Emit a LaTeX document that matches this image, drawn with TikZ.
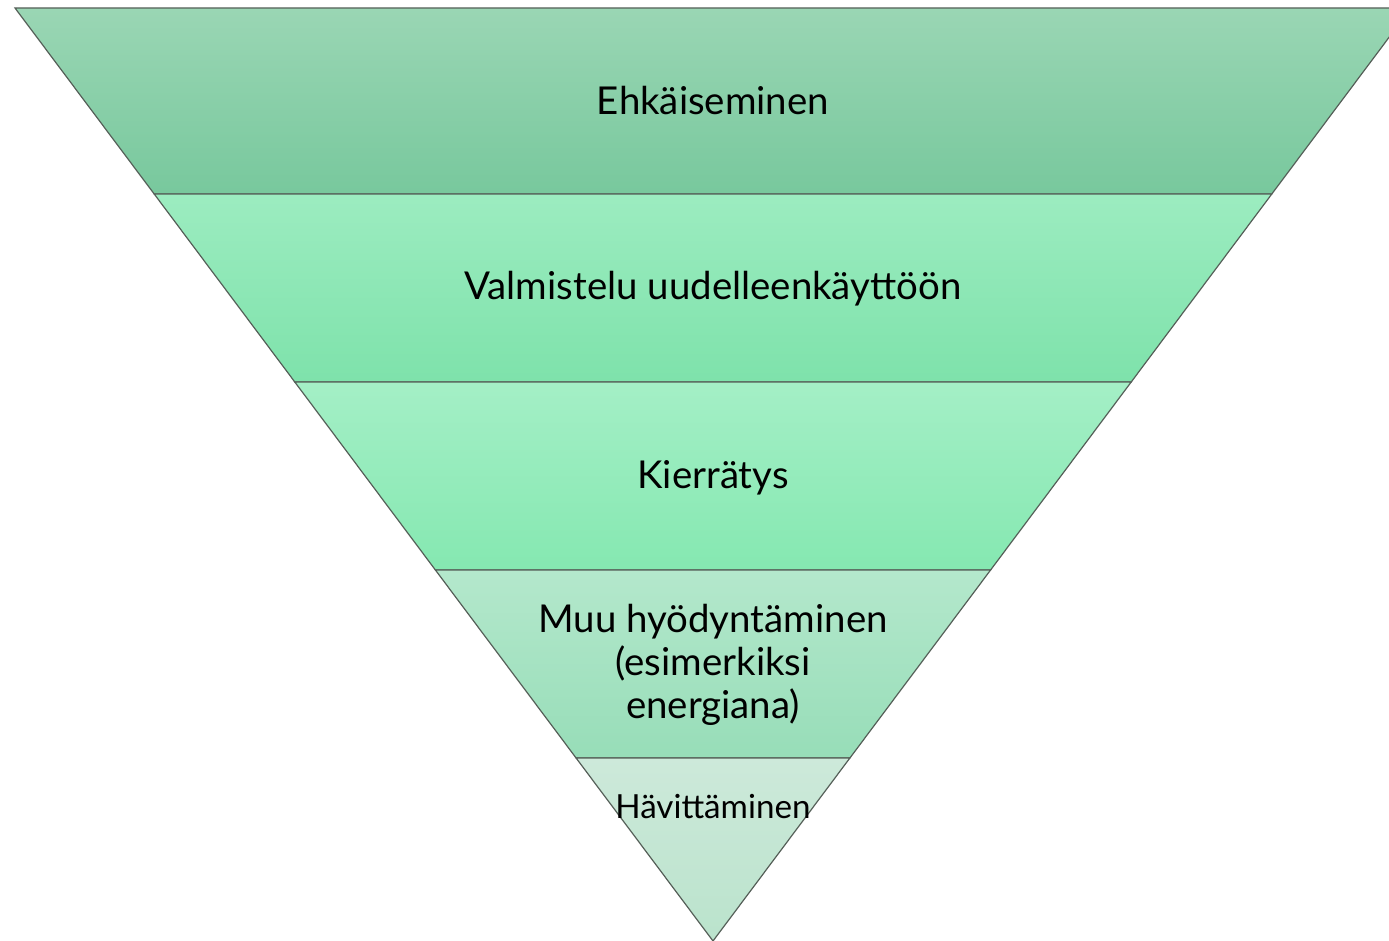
\documentclass[tikz,border=0pt]{standalone}
\usepackage{fontspec}
\setmainfont{Lato}
\definecolor{aT}{HTML}{9AD6B4}\definecolor{aB}{HTML}{78C89D}
\definecolor{bT}{HTML}{9CECC0}\definecolor{bB}{HTML}{7EE2AB}
\definecolor{cT}{HTML}{A4EFC6}\definecolor{cB}{HTML}{85E8B1}
\definecolor{dT}{HTML}{B4E8CC}\definecolor{dB}{HTML}{97DDB8}
\definecolor{eT}{HTML}{CDE9DA}\definecolor{eB}{HTML}{BAE3CC}
\definecolor{edge}{HTML}{555F58}
\tikzset{
  band/.style={draw=edge, line width=0.6pt, line join=miter},
  lbl/.style={text=black, align=center, font=\fontsize{19.2}{21.5}\selectfont, inner sep=0pt},
  slbl/.style={text=black, align=center, font=\fontsize{16.6}{19}\selectfont, inner sep=0pt}
}
\begin{document}
\begin{tikzpicture}[x=0.5pt,y=-0.5pt]
\useasboundingbox (0,0) rectangle (1389,941);
\clip (0,0) rectangle (1389,941);
\shade[band, top color=aT, bottom color=aB] (15,8) -- (1411,8) -- (1271.8,194) -- (154.2,194) -- cycle;
\shade[band, top color=bT, bottom color=bB] (154.2,194) -- (1271.8,194) -- (1131.2,382) -- (294.8,382) -- cycle;
\shade[band, top color=cT, bottom color=cB] (294.8,382) -- (1131.2,382) -- (990.6,570) -- (435.4,570) -- cycle;
\shade[band, top color=dT, bottom color=dB] (435.4,570) -- (990.6,570) -- (849.9,758) -- (576.1,758) -- cycle;
\shade[band, top color=eT, bottom color=eB] (576.1,758) -- (849.9,758) -- (713,941) -- cycle;
\node[lbl] (t1) at (713,101) {Ehkäiseminen};
\node[lbl] (t2) at (713,289) {Valmistelu uudelleenkäyttöön};
\node[lbl] (t3) at (713,478) {Kierrätys};
\node[lbl] (t4) at (713,665) {Muu hyödyntäminen\\(esimerkiksi\\energiana)};
\node[slbl] (t5) at (713,807) {Hävittäminen};
\end{tikzpicture}
\end{document}
